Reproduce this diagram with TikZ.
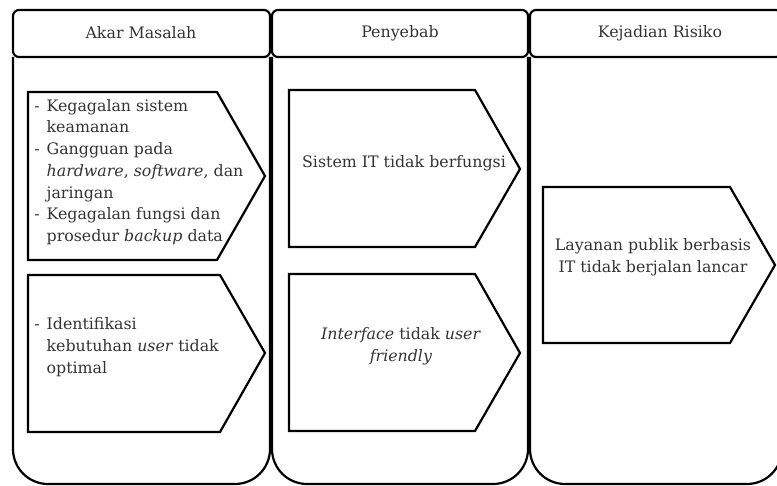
\documentclass[tikz,border=0pt]{standalone}
\usepackage{fontspec}
\setmainfont{DejaVu Serif}
\newcommand{\itm}{\makebox[7pt][l]{-}}
\newcommand{\ind}{\hspace*{7pt}}
\begin{document}
\begin{tikzpicture}
                        [x=0.02cm, y=-0.02cm,
                        lane/.style = {line width=1.25pt,
                                    rounded corners=0.7cm},
                        head/.style = {line width=1.25pt,
                                    rounded corners=0.12cm},
                        box/.style = {line width=1.25pt},
                        txt/.style = {font=\fontsize{9}{12.4}\selectfont,
                                    text=black!80, inner sep=0pt}]
                        \useasboundingbox (0,0) rectangle (777,486);
                        \clip (0,0) rectangle (777,486);
                        % lanes
                        \draw[lane] (13,57) -- (13,484) -- (270,484) -- (270,57);
                        \draw[lane] (272,57) -- (272,484) -- (528,484) -- (528,57);
                        \draw[lane] (530,57) -- (530,484) -- (782,484) -- (782,57);
                        \draw[head] (13,10) rectangle (270,57);
                        \draw[head] (272,10) rectangle (528,57);
                        \draw[head] (530,10) rectangle (782,57);
                        \node[txt] (akar) at (141,33) {Akar Masalah};
                        \node[txt] (sebab) at (400,33) {Penyebab};
                        \node[txt] (risiko) at (660,33) {Kejadian Risiko};
                        % arrow boxes
                        \draw[box] (28,92) -- (217,92) -- (265,176) -- (217,260) -- (28,260) -- cycle;
                        \draw[box] (28,275) -- (220,275) -- (265,353) -- (220,432) -- (28,432) -- cycle;
                        \draw[box] (289,90) -- (475,90) -- (520,169) -- (475,247) -- (289,247) -- cycle;
                        \draw[box] (289,274) -- (475,274) -- (520,353) -- (475,431) -- (289,431) -- cycle;
                        \draw[box] (543,187) -- (730,187) -- (775,265) -- (730,343) -- (543,343) -- cycle;
                        \node[txt, anchor=west, align=left] (akar1) at (34,172)
                            {\itm Kegagalan sistem\\
                             \ind keamanan\\
                             \itm Gangguan pada\\
                             \ind \textit{hardware}, \textit{software}, dan\\
                             \ind jaringan\\
                             \itm Kegagalan fungsi dan\\
                             \ind prosedur \textit{backup} data};
                        \node[txt, anchor=west, align=left] (akar2) at (34,347)
                            {\itm Identifikasi\\
                             \ind kebutuhan \textit{user} tidak\\
                             \ind optimal};
                        \node[txt] (sebab1) at (404,163) {Sistem IT tidak berfungsi};
                        \node[txt, align=center] (sebab2) at (401,346)
                            {\textit{Interface} tidak \textit{user}\\ \textit{friendly}};
                        \node[txt, align=center] (risiko1) at (653,257)
                            {Layanan publik berbasis\\ IT tidak berjalan lancar};
                    \end{tikzpicture}
\end{document}
